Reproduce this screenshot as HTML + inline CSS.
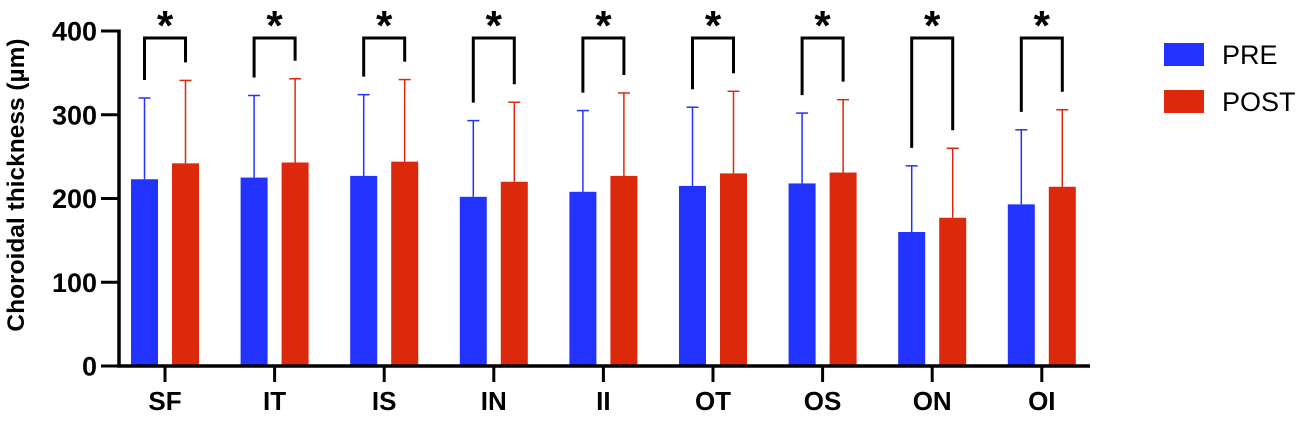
<!DOCTYPE html>
<html><head><meta charset="utf-8"><style>
body{margin:0;background:#fff;}
svg text{font-family:"Liberation Sans",Arial,sans-serif;font-weight:bold;}
</style></head><body>
<svg id="chart" width="1301" height="416" viewBox="0 0 1301 416" xmlns="http://www.w3.org/2000/svg">
<text transform="translate(24,185) rotate(-90)" text-anchor="middle" style="font-size:24.5px">Choroidal thickness (µm)</text>
<g id="plot"></g>
<g>
<rect x="1164" y="43" width="40" height="23" fill="#2233ff"/>
<text x="1222" y="64" style="font-size:27px;font-weight:normal">PRE</text>
<rect x="1164" y="90" width="40" height="23" fill="#dd290b"/>
<text x="1222" y="111" style="font-size:27px;font-weight:normal">POST</text>
</g>
</svg>
<script>
const categories=["SF","IT","IS","IN","II","OT","OS","ON","OI"];
const preMean=[223,225,227,202,208,215,218,160,193];
const preErr=[320,323,324,293,305,309,302,239,282];
const postMean=[242,243,244,220,227,230,231,177,214];
const postErr=[341,343,342,315,326,328,318,260,306];
const yTicks=[0,100,200,300,400];

const NS="http://www.w3.org/2000/svg";
const g=document.getElementById('plot');
const y0=366,yScale=335/400;
const Y=v=>y0-v*yScale;
const X=i=>165+i*109.6;
function el(tag,attrs,parent){const e=document.createElementNS(NS,tag);for(const k in attrs)e.setAttribute(k,attrs[k]);(parent||g).appendChild(e);return e;}

categories.forEach((c,i)=>{
  const cx=X(i);
  [[preMean[i],preErr[i],-20.5,"#2233ff","pre"],[postMean[i],postErr[i],20.5,"#dd290b","post"]].forEach(([m,e,off,col,nm])=>{
    const bx=cx+off;
    const ln=el('line',{x1:bx,x2:bx,y1:Y(m),y2:Y(e),stroke:col,'stroke-width':1.5});
    
    
    const cap=el('line',{x1:bx-6,x2:bx+6,y1:Y(e),y2:Y(e),stroke:col,'stroke-width':1.5});
    
    
    const r=el('rect',{x:bx-13.5,y:Y(m),width:27,height:Y(0)-Y(m),fill:col});
    
    
  });
  const lx=cx-20.5,rx=cx+20.5;
  const br=el('path',{d:`M${lx},${Y(preErr[i])-18}V38H${rx}V${Y(postErr[i])-18}`,fill:'none',stroke:'#000','stroke-width':3});
  
  
  const st=el('text',{x:cx,y:40,'text-anchor':'middle',style:'font-size:42px'});
  st.textContent='*';
  
  
  const tk=el('line',{x1:cx,x2:cx,y1:366,y2:382,stroke:'#000','stroke-width':3});
  
  
  const lb=el('text',{x:cx,y:410,'text-anchor':'middle',style:'font-size:26px'});
  lb.textContent=c;
  
  
});
yTicks.forEach(t=>{
  const tk=el('line',{x1:101,x2:119,y1:Y(t),y2:Y(t),stroke:'#000','stroke-width':3});
  
  
  const lb=el('text',{x:97,y:Y(t)+9.5,'text-anchor':'end',style:'font-size:27px'});
  lb.textContent=t;
  
  
});
const ya=el('line',{x1:119,x2:119,y1:Y(400)-1.5,y2:367.5,stroke:'#000','stroke-width':3.5});


const xa=el('line',{x1:117,x2:1090,y1:366,y2:366,stroke:'#000','stroke-width':3.5});


</script>
</body></html>
